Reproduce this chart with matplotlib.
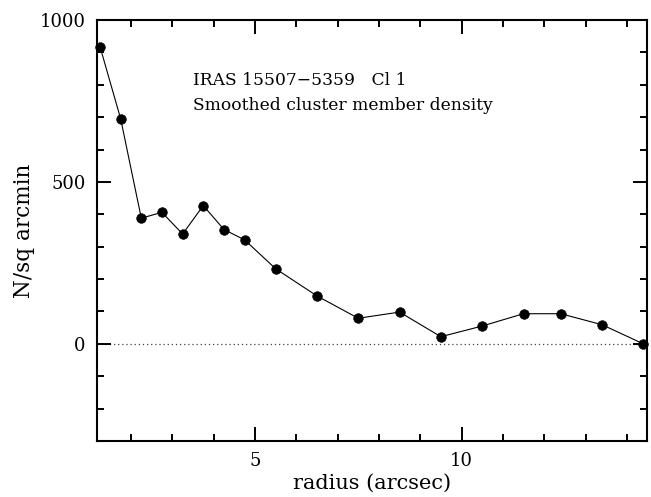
import matplotlib
matplotlib.use("Agg")
import matplotlib.pyplot as plt
from matplotlib.ticker import MultipleLocator

radius = [1.25, 1.75, 2.25, 2.75, 3.25, 3.75, 4.25, 4.75, 5.5, 6.5, 7.5, 8.5, 9.5, 10.5, 11.5, 12.4, 13.4, 14.4]
density = [918, 695, 388, 406, 339, 427, 353, 321, 232, 148, 79, 98, 22, 55, 93, 93, 59, 0]

title_lines = ["IRAS 15507\u22125359   Cl 1", "Smoothed cluster member density"]

plt.rcParams['font.family'] = ['DejaVu Serif']

fig = plt.figure(figsize=(6.51, 4.97), dpi=100)
ax = fig.add_axes([0.1485, 0.1127, 0.8461, 0.8471])

ax.plot(radius, density, color='black', lw=0.8, marker='o', ms=6.9, mew=0.5,
        mfc='black', mec='black', clip_on=False, zorder=3)
ax.axhline(0, color='#444444', lw=0.9, ls=(0, (1, 2.3)), zorder=1)

ax.set_xlim(1.17, 14.5)
ax.set_ylim(-300, 1000)

ax.xaxis.set_major_locator(MultipleLocator(5))
ax.xaxis.set_minor_locator(MultipleLocator(1))
ax.yaxis.set_major_locator(MultipleLocator(500))
ax.yaxis.set_minor_locator(MultipleLocator(100))

ax.tick_params(which='both', direction='in', top=True, right=True,
               width=1.4, labelsize=13, colors='black')
ax.tick_params(which='major', length=10, pad=8)
ax.tick_params(which='minor', length=5)
for s in ax.spines.values():
    s.set_linewidth(1.5)

ax.set_xlabel("radius (arcsec)", fontsize=15, labelpad=3)
ax.set_ylabel("N/sq arcmin", fontsize=15.5, labelpad=3)

ax.text(3.5, 800, title_lines[0], fontsize=12.3, va='baseline', ha='left')
ax.text(3.5, 723, title_lines[1], fontsize=12.3, va='baseline', ha='left')

fig.savefig("out.png", dpi=100)
